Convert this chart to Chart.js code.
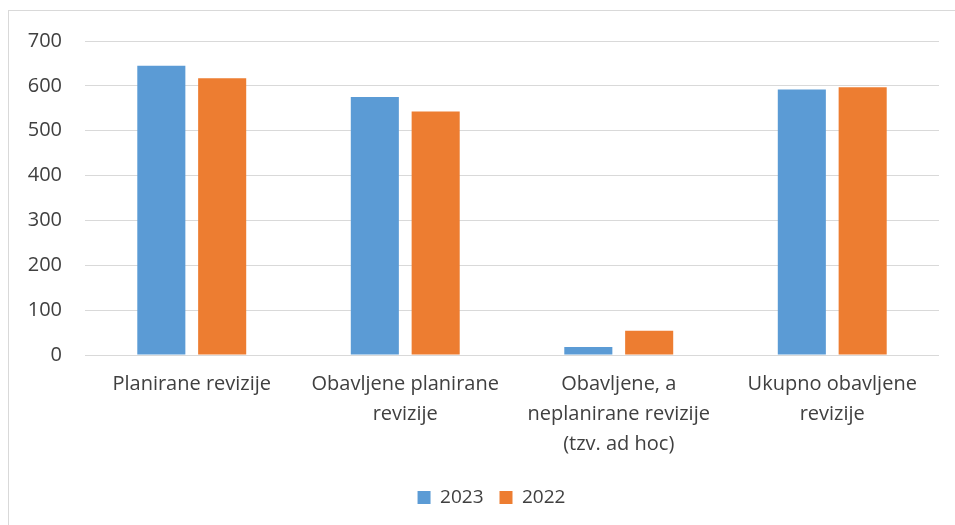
<!DOCTYPE html>
<html>
<head>
<meta charset="utf-8">
<script src="https://cdn.jsdelivr.net/npm/chart.js@4/dist/chart.umd.min.js"></script>
<style>
html,body{margin:0;padding:0;background:#fff;}
#wrap{position:relative;width:955px;height:525px;}
#frame{position:absolute;left:8px;top:10px;width:947px;height:515px;border-left:1px solid #d9d9d9;border-top:1px solid #d9d9d9;pointer-events:none;}
canvas{position:absolute;left:0;top:0;}
</style>
</head>
<body>
<div id="wrap"><canvas id="c" width="955" height="525"></canvas><div id="frame"></div></div>
<script>
const categories = [
  ["Planirane revizije"],
  ["Obavljene planirane", "revizije"],
  ["Obavljene, a", "neplanirane revizije", "(tzv. ad hoc)"],
  ["Ukupno obavljene", "revizije"]
];
const seriesNames = ["2023", "2022"];
const values2023 = [645, 575, 18, 592];
const values2022 = [617, 543, 54, 597];
const yTicks = [0, 100, 200, 300, 400, 500, 600, 700];

const FONT = "'Open Sans', 'Noto Sans', sans-serif";
const TEXT = '#404040';

const legendShift = {
  id: 'legendShift',
  afterLayout(chart) {
    const l = chart.legend;
    if (l) { l.left += 22; l.right += 22; }
  }
};

new Chart(document.getElementById('c'), {
  type: 'bar',
  data: {
    labels: categories,
    datasets: [
      { label: seriesNames[0], data: values2023, backgroundColor: '#5B9BD5', borderWidth: 0 },
      { label: seriesNames[1], data: values2022, backgroundColor: '#ED7D31', borderWidth: 0 }
    ]
  },
  plugins: [legendShift],
  options: {
    responsive: false,
    animation: false,
    datasets: { bar: { categoryPercentage: 0.57, barPercentage: 0.79 } },
    layout: { padding: { top: 41, right: 16, bottom: 8, left: 0 } },
    plugins: {
      tooltip: { enabled: false },
      legend: {
        position: 'bottom',
        labels: {
          color: TEXT,
          font: { family: FONT, size: 19 },
          boxWidth: 13, boxHeight: 13, padding: 16
        }
      }
    },
    scales: {
      x: {
        grid: { display: false, drawTicks: false },
        border: { display: false },
        ticks: {
          color: TEXT, maxRotation: 0, autoSkip: false, padding: 14,
          font: { family: FONT, size: 20, lineHeight: 1.5 }
        },
        afterFit: s => { s.height = 117; }
      },
      y: {
        min: 0, max: 700,
        afterBuildTicks: s => { s.ticks = yTicks.map(v => ({ value: v })); },
        grid: { color: '#d9d9d9', lineWidth: 1, drawTicks: false },
        border: { display: false },
        ticks: {
          color: TEXT, padding: 23,
          font: { family: FONT, size: 20 }
        },
        afterFit: s => { s.width = 85; }
      }
    }
  }
});
</script>
</body>
</html>
